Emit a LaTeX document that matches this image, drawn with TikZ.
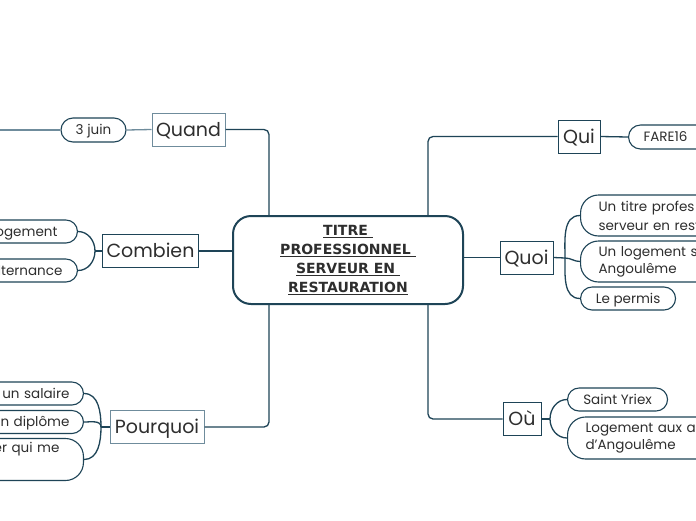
\documentclass[tikz,border=0pt]{standalone}
\usepackage{fontspec}
\setmainfont{Poppins}
\newfontfamily\titlefont{DejaVu Sans}
\usetikzlibrary{calc}
\definecolor{dk}{HTML}{1E4457}
\definecolor{lt}{HTML}{6F8C9C}
\definecolor{txt}{HTML}{2E2E2E}
\tikzset{
  conn/.style={draw=dk, line width=1.3pt},
  lconn/.style={draw=lt, line width=1.3pt},
  topic/.style={draw=dk, line width=1pt, fill=white, text=txt, inner xsep=4pt,
    minimum height=33pt, text height=15pt, text depth=2pt, font=\fontsize{19}{22}\selectfont},
  ltopic/.style={topic, draw=lt},
  pillbase/.style={draw=dk, line width=1.1pt, fill=white, text=txt, rounded corners=11.5pt,
    minimum height=23pt, font=\fontsize{13.5}{18}\selectfont, inner ysep=2pt},
  pill/.style={pillbase, text height=11pt, text depth=1.5pt},
  pillL/.style={pill, text width=130pt, align=right, inner xsep=18pt},
  pillR/.style={pill, text width=150pt, align=left, inner xsep=18pt},
  pillLL/.style={pillbase, text width=130pt, align=right, inner xsep=18pt, rounded corners=18pt},
  pillRR/.style={pillbase, text width=150pt, align=left, inner xsep=18pt, rounded corners=18pt},
  central/.style={draw=dk, line width=2pt, fill=white, text=txt, rounded corners=18pt,
    minimum width=230pt, minimum height=88pt, align=center,
    font=\titlefont\bfseries\fontsize{14}{19}\selectfont}
}
\begin{document}
\begin{tikzpicture}[x=1pt,y=-1pt]
\useasboundingbox (0,0) rectangle (696,520);
\fill[white] (0,0) rectangle (696,520);
\clip (0,0) rectangle (696,520);

% central
\node[central] (c) at (348,260) {\raisebox{-2.5pt}{\begin{tabular}{@{}c@{}}\underline{TITRE\ }\\\underline{PROFESSIONNEL\ }\\\underline{SERVEUR EN\ }\\\underline{RESTAURATION}\end{tabular}}};

% topics
\node[ltopic, minimum width=73pt] (quand) at (188.5,129.5) {Quand};
\node[topic, minimum width=93pt] (combien) at (150.5,251) {Combien};
\node[ltopic, minimum width=94pt] (pourquoi) at (157,427) {Pourquoi};
\node[topic, minimum width=42pt] (qui) at (579,136.5) {Qui};
\node[topic, minimum width=53pt] (quoi) at (526.5,257.5) {Quoi};
\node[topic, minimum width=38pt] (ou) at (522,419) {Où};

% central connectors
\draw[conn, rounded corners=5pt] ($(c.north west)+(37,0)$) |- (quand.east);
\draw[conn, rounded corners=5pt] ($(c.south west)+(37,0)$) |- (pourquoi.east);
\draw[conn, rounded corners=5pt] ($(c.north east)+(-36,0)$) |- (qui.west);
\draw[conn, rounded corners=5pt] ($(c.south east)+(-36,0)$) |- (ou.west);
\draw[conn] (combien.east) -- (combien.east -| c.west);
\draw[conn] (quoi.west) -- (quoi.west -| c.east);

% Quand branch
\node[pill, minimum width=65pt, minimum height=24pt, rounded corners=12pt] (juin) at (93.5,130) {3 juin};
\coordinate (juinL) at (-5,130);
\draw[lconn] (quand.west) -- (juin.east);
\draw[lconn] (juin.west) -- (juinL);

% Combien branch
\coordinate (cf) at (95,251);
\node[pillL, anchor=east, inner xsep=20pt] (cb1) at (78,231.5) {logement};
\node[pillL, anchor=east, inner xsep=15pt] (cb2) at (78,270.5) {alternance};
\draw[conn] (combien.west) -- (cf);
\draw[conn] (cf) to[out=90,in=0] (cb1.east);
\draw[conn] (cf) to[out=-90,in=0] (cb2.east);

% Pourquoi branch
\coordinate (pf) at (101,427);
\node[pillL, anchor=east, inner xsep=14pt] (p1) at (84,393.5) {un salaire};
\node[pillL, anchor=east, inner xsep=14pt] (p2) at (84,422) {un diplôme};
\node[pillLL, anchor=east, inner xsep=24pt, minimum height=42pt] (p3) at (84,459.5) {er qui me\\\strut};
\draw[conn] (pourquoi.west) -- (pf);
\draw[conn] (pf) to[out=90,in=0] (p1.east);
\draw[conn] (pf) to[out=90,in=0] (p2.east);
\draw[conn] (pf) to[out=-90,in=0] (p3.east);

% Qui branch
\node[pillR, anchor=west, inner xsep=15pt, minimum height=24pt, rounded corners=12pt] (fare) at (628,137) {FARE16};
\draw[conn] (qui.east) -- (fare.west);

% Quoi branch
\coordinate (qf) at (565,258);
\node[pillRR, anchor=west, minimum height=41pt, font=\fontsize{13.5}{19}\selectfont] (q1) at (580,215.5) {\raisebox{-1pt}{\parbox{150pt}{Un titre profes\\serveur en rest}}};
\node[pillRR, anchor=west, minimum height=41pt, font=\fontsize{13.5}{17}\selectfont] (q2) at (580,261.5) {\raisebox{-1pt}{\parbox{150pt}{Un logement s\\Angoulême}}};
\node[pill, anchor=west, inner xsep=14pt, minimum width=95pt] (q3) at (580,298.5) {Le permis};
\draw[conn] (quoi.east) -- (qf);
\draw[conn] (qf) to[out=90,in=180] (q1.west);
\draw[conn] (qf) to[out=0,in=180] (q2.west);
\draw[conn] (qf) to[out=-90,in=180] (q3.west);

% Où branch
\coordinate (of) at (550,419);
\node[pill, anchor=west, inner xsep=14pt, minimum width=100pt] (o1) at (567,399.5) {Saint Yriex};
\node[pillRR, anchor=west, minimum height=42pt, font=\fontsize{13.5}{17}\selectfont] (o2) at (567,438) {\raisebox{-1pt}{\parbox{150pt}{Logement aux a\\d’Angoulême}}};
\draw[conn] (ou.east) -- (of);
\draw[conn] (of) to[out=90,in=180] (o1.west);
\draw[conn] (of) to[out=-90,in=180] (o2.west);
\end{tikzpicture}
\end{document}
